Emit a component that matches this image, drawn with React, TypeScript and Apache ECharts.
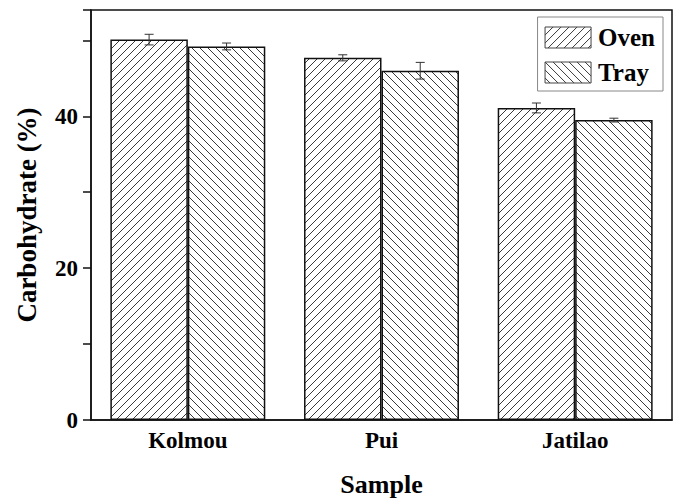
import React, { useEffect, useRef } from "react";
import * as echarts from "echarts";

const categories = ["Kolmou", "Pui", "Jatilao"];
const ovenValues = [50.1, 47.7, 41.1];
const ovenErrors = [0.7, 0.4, 0.65];
const trayValues = [49.2, 46.0, 39.5];
const trayErrors = [0.45, 1.1, 0.25];
const seriesNames = ["Oven", "Tray"];
const yMin = 0;
const yMax = 54;
const yInterval = 10;
const yLabelStep = 20;

const FONT = "'Liberation Serif', 'Times New Roman', serif";

function makeHatch(dir: "up" | "down") {
  const s = 8;
  const c = document.createElement("canvas");
  c.width = s;
  c.height = s;
  const ctx = c.getContext("2d")!;
  ctx.fillStyle = "#ffffff";
  ctx.fillRect(0, 0, s, s);
  ctx.strokeStyle = "#3a3a3a";
  ctx.lineWidth = 1;
  for (const x0 of [-s, 0, s]) {
    ctx.beginPath();
    if (dir === "up") {
      ctx.moveTo(x0, s);
      ctx.lineTo(x0 + s, 0);
    } else {
      ctx.moveTo(x0, 0);
      ctx.lineTo(x0 + s, s);
    }
    ctx.stroke();
  }
  return { image: c, repeat: "repeat", imageWidth: s, imageHeight: s } as any;
}

function errorSeries(name: string, values: number[], errors: number[], offset: number) {
  return {
    name: name + " error",
    type: "custom",
    z: 5,
    data: values.map((v, i) => [i, v, errors[i]]),
    encode: { x: 0, y: 1 },
    renderItem: (params: any, api: any) => {
      const i = api.value(0);
      const v = api.value(1);
      const e = api.value(2);
      const band = api.size([1, 0])[0];
      const cx = api.coord([i, v])[0] + offset * band;
      const top = api.coord([i, v + e])[1];
      const bot = api.coord([i, v - e])[1];
      const hw = 4.5;
      const style = { stroke: "#333", lineWidth: 1 };
      return {
        type: "group",
        children: [
          { type: "line", shape: { x1: cx, y1: top, x2: cx, y2: bot }, style },
          { type: "line", shape: { x1: cx - hw, y1: top, x2: cx + hw, y2: top }, style },
          { type: "line", shape: { x1: cx - hw, y1: bot, x2: cx + hw, y2: bot }, style },
        ],
      };
    },
  };
}

export default function App() {
  const ref = useRef<HTMLDivElement>(null);
  useEffect(() => {
    if (!ref.current) return;
    const chart = echarts.init(ref.current, undefined, { renderer: "svg" });
    const ovenPattern = makeHatch("up");
    const trayPattern = makeHatch("down");
    const barItem = (pattern: any) => ({
      color: pattern,
      borderColor: "#111",
      borderWidth: 1.5,
    });
    chart.setOption({
      animation: false,
      backgroundColor: "#ffffff",
      textStyle: { fontFamily: FONT },
      grid: {
        left: 91,
        right: 6,
        top: 10,
        bottom: 78,
        show: true,
        borderColor: "#111",
        borderWidth: 1.5,
        backgroundColor: "transparent",
      },
      legend: {
        data: seriesNames,
        orient: "vertical",
        right: 15,
        top: 17,
        icon: "rect",
        itemWidth: 46,
        itemHeight: 21,
        itemGap: 10,
        padding: [8, 8, 6, 7],
        borderColor: "#888",
        borderWidth: 1,
        itemStyle: { borderColor: "#444", borderWidth: 1 },
        textStyle: { fontFamily: FONT, fontWeight: "bold", fontSize: 25, color: "#000", padding: [0, 0, 0, 2] },
      },
      xAxis: {
        type: "category",
        data: categories,
        name: "Sample",
        nameLocation: "middle",
        nameGap: 51,
        nameTextStyle: { fontFamily: FONT, fontWeight: "bold", fontSize: 26, color: "#000" },
        axisLine: { lineStyle: { color: "#111", width: 1.5 } },
        axisTick: { show: false },
        axisLabel: { fontFamily: FONT, fontWeight: "bold", fontSize: 23, color: "#000", margin: 9 },
      },
      yAxis: {
        type: "value",
        min: yMin,
        max: yMax,
        interval: yInterval,
        name: "Carbohydrate (%)",
        nameLocation: "middle",
        nameGap: 51,
        nameTextStyle: { fontFamily: FONT, fontWeight: "bold", fontSize: 27, color: "#000" },
        axisLine: { show: true, lineStyle: { color: "#111", width: 1.5 } },
        axisTick: { show: true, inside: false, length: 8, lineStyle: { color: "#111", width: 1.5 } },
        splitLine: { show: false },
        axisLabel: {
          fontFamily: FONT,
          fontWeight: "bold",
          fontSize: 23,
          color: "#000",
          margin: 13,
          formatter: (v: number) => (v % yLabelStep === 0 ? String(v) : ""),
        },
      },
      series: [
        {
          name: seriesNames[0],
          type: "bar",
          data: ovenValues,
          barGap: "0%",
          barCategoryGap: "20%",
          itemStyle: barItem(ovenPattern),
        },
        {
          name: seriesNames[1],
          type: "bar",
          data: trayValues,
          barGap: "0%",
          barCategoryGap: "20%",
          itemStyle: barItem(trayPattern),
        },
        errorSeries(seriesNames[0], ovenValues, ovenErrors, -0.2),
        errorSeries(seriesNames[1], trayValues, trayErrors, 0.2),
      ],
    });
    return () => chart.dispose();
  }, []);
  return (
    <div
      ref={ref}
      style={{ position: "absolute", left: 0, top: 0, width: 678, height: 502 }}
    />
  );
}
